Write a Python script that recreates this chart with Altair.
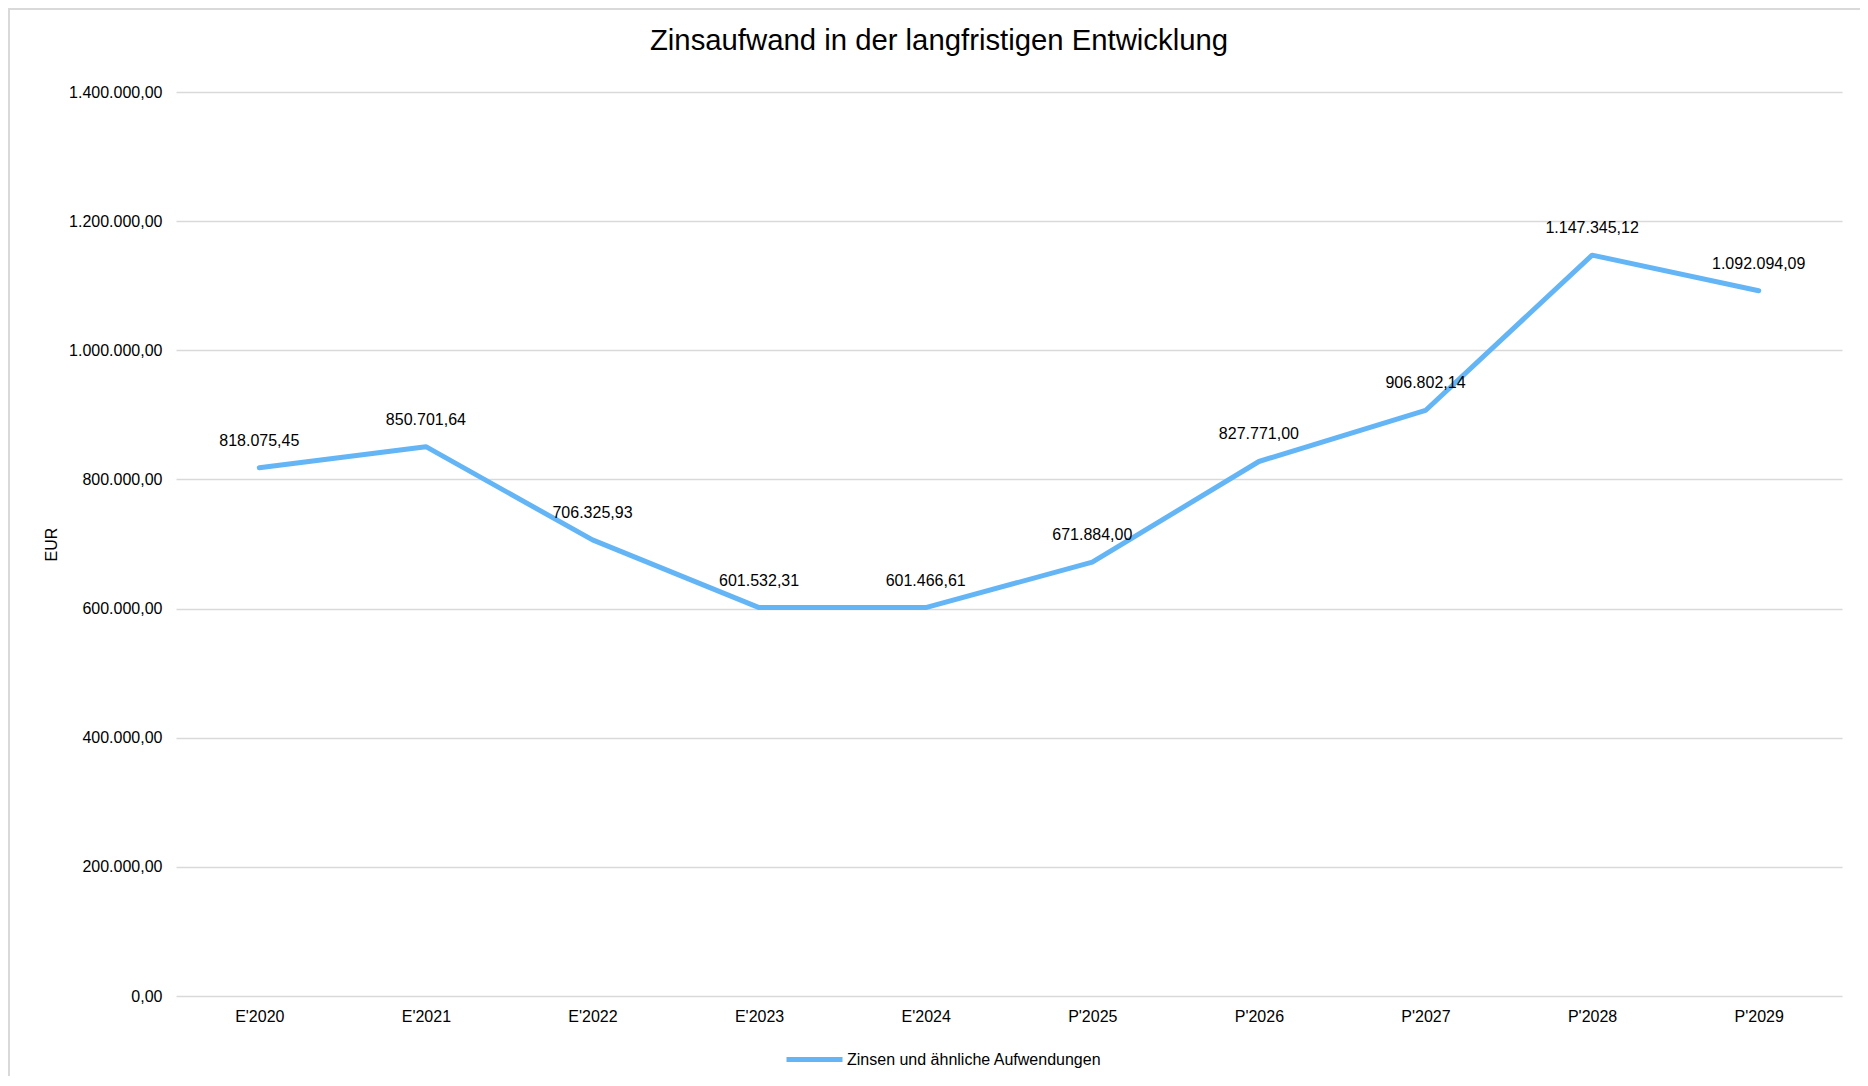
import altair as alt
import pandas as pd

categories = ["E'2020", "E'2021", "E'2022", "E'2023", "E'2024",
              "P'2025", "P'2026", "P'2027", "P'2028", "P'2029"]
values = [818075.45, 850701.64, 706325.93, 601532.31, 601466.61,
          671884.00, 827771.00, 906802.14, 1147345.12, 1092094.09]
series_name = "Zinsen und ähnliche Aufwendungen"

df = pd.DataFrame({"Jahr": categories, "Wert": values, "Serie": series_name})

W, H = 1666, 904
PAD = {"left": 168, "top": 84, "right": 18, "bottom": 80}
LINE_COLOR = "#64b5f6"

x_enc = alt.X("Jahr:N", sort=categories,
              scale=alt.Scale(type="point", padding=0.5),
              axis=alt.Axis(title=None, labelAngle=0, labelFontSize=16,
                            labelColor="#000000", labelPadding=12,
                            ticks=False, domain=False, grid=False,
                            labelFont="Liberation Sans"))
y_enc = alt.Y("Wert:Q",
              scale=alt.Scale(domain=[0, 1400000], nice=False),
              axis=alt.Axis(title="EUR", values=[0, 200000, 400000, 600000, 800000,
                                                  1000000, 1200000, 1400000],
                            format=",.2f", labelFontSize=16, labelColor="#000000",
                            labelPadding=14, ticks=False, domain=False,
                            gridColor="#d9d9d9", gridWidth=1.5,
                            titleFontSize=16, titleFontWeight="normal",
                            titleColor="#000000", titleAngle=-90,
                            titleX=-125, titleY=H / 2, titleAlign="center",
                            titleBaseline="middle",
                            labelFont="Liberation Sans", titleFont="Liberation Sans"))

base = alt.Chart(df)

line = base.mark_line(strokeWidth=5, strokeCap="round", strokeJoin="round").encode(
    x=x_enc,
    y=y_enc,
    color=alt.Color("Serie:N",
                    scale=alt.Scale(domain=[series_name], range=[LINE_COLOR]),
                    legend=alt.Legend(title=None, orient="none",
                                      legendX=608, legendY=937,
                                      symbolType="stroke", symbolSize=3136,
                                      symbolStrokeWidth=5, labelFontSize=16,
                                      labelColor="#000000", labelOffset=2,
                                      labelLimit=500,
                                      labelFont="Liberation Sans", padding=0)),
)

labels = base.mark_text(fontSize=16, color="#000000", dy=-27, baseline="middle",
                        align="center", font="Liberation Sans").encode(
    x=alt.X("Jahr:N", sort=categories),
    y=alt.Y("Wert:Q"),
    text=alt.Text("Wert:Q", format=",.2f"),
)

border_left = alt.Chart(df).mark_rule(color="#d9d9d9", strokeWidth=2).encode(
    x=alt.value(-PAD["left"] + 1), y=alt.value(-PAD["top"]), y2=alt.value(H + PAD["bottom"])
)
border_top = alt.Chart(df).mark_rule(color="#d9d9d9", strokeWidth=2).encode(
    x=alt.value(-PAD["left"]), x2=alt.value(W + PAD["right"]), y=alt.value(-PAD["top"] + 1)
)

chart = alt.layer(line, labels, border_left, border_top).properties(
    width=W, height=H,
    padding=PAD,
    autosize=alt.AutoSizeParams(type="none"),
    title=alt.TitleParams("Zinsaufwand in der langfristigen Entwicklung",
                          fontSize=29.3, font="Liberation Sans", fontWeight="normal",
                          color="#000000", anchor="middle", frame="group",
                          baseline="alphabetic", dx=-70, dy=72, offset=0),
).configure(
    locale=alt.Locale(number=alt.NumberLocale(decimal=",", thousands=".",
                                              grouping=[3], currency=["", " €"])),
    background="#ffffff",
).configure_view(stroke=None)

chart.save("out.html", embed_options={"renderer": "svg", "actions": False})
